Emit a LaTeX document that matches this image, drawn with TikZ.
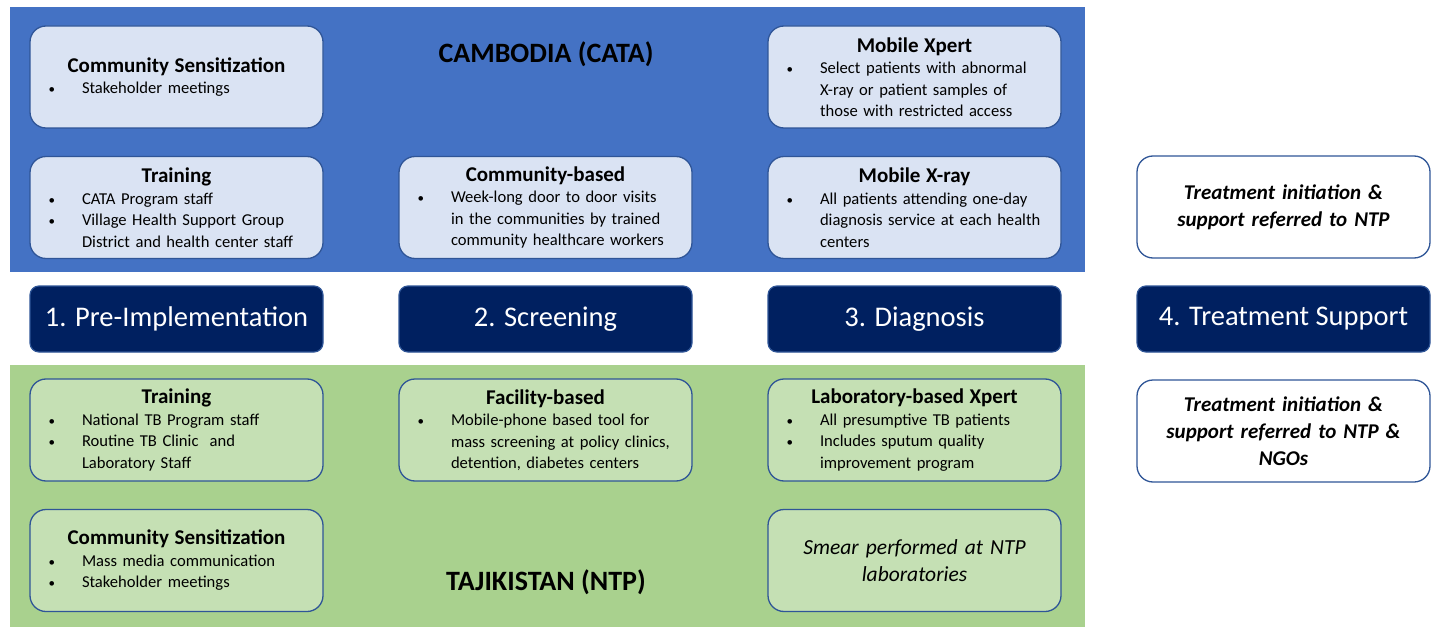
\documentclass[tikz,border=0pt]{standalone}
\usepackage{fontspec}
\setmainfont{Carlito}
\definecolor{bandblue}{HTML}{4472C4}
\definecolor{bandgreen}{HTML}{A9D18E}
\definecolor{lightblue}{HTML}{DAE3F3}
\definecolor{lightgreen}{HTML}{C5E0B4}
\definecolor{navy}{HTML}{002060}
\definecolor{edge}{HTML}{2F5597}

% bullet line, continuation line and card heading (lines never wrap)
\newcommand{\dotmark}{{\fontsize{13}{13}\selectfont\textbullet}}
\newcommand{\blt}[1]{\par\noindent\makebox[34pt][l]{\hspace{0.5pt}\dotmark}\mbox{#1}}
\newcommand{\cont}[1]{\par\noindent\hspace*{34pt}\mbox{#1}}
\newcommand{\ttl}[1]{{\centering\bfseries\fontsize{21}{22}\selectfont #1\par}}

\tikzset{
  card/.style={draw=edge, line width=1.3pt, rounded corners=16pt,
    minimum width=293pt, minimum height=102pt, inner xsep=18pt, inner ysep=0pt,
    text width=257pt, align=left, font=\fontsize{16.6}{21.5}\selectfont},
  bluecard/.style={card, fill=lightblue},
  greencard/.style={card, fill=lightgreen},
  notecard/.style={card, align=center, font=\fontsize{21.5}{27}\selectfont\itshape},
  phase/.style={draw=edge, fill=navy, line width=1.2pt, rounded corners=9pt,
    minimum width=293pt, minimum height=66pt, text=white,
    font=\fontsize{28.5}{32}\selectfont},
  country/.style={font=\fontsize{28}{32}\selectfont\bfseries},
}

\begin{document}
\begin{tikzpicture}[x=1pt, y=-1pt]
  \fill[white] (0,0) rectangle (1434,628);
  % country bands
  \fill[bandblue] (10,7) rectangle (1085,272);
  \fill[bandgreen] (10,365) rectangle (1085,627);

  \node[country] (cambodia) at (546,54) {CAMBODIA (CATA)};
  \node[country] (tajik) at (546,582) {TAJIKISTAN (NTP)};

  % Cambodia activities
  \node[bluecard] (cSens) at (176.5,77) {\ttl{Community Sensitization}\blt{Stakeholder meetings}};
  \node[bluecard] (cXpert) at (914.5,77) {\ttl{Mobile Xpert}\blt{Select patients with abnormal}\cont{X-ray or patient samples of}\cont{those with restricted access}};
  \node[bluecard] (cTrain) at (176.5,207.5) {\ttl{Training}\blt{CATA Program staff}\blt{Village Health Support Group}\cont{District and health center staff}};
  \node[bluecard] (cComm) at (545.5,207.5) {\ttl{Community-based}\blt{Week-long door to door visits}\cont{in the communities by trained}\cont{community healthcare workers}};
  \node[bluecard] (cXray) at (914.5,207.5) {\ttl{Mobile X-ray}\blt{All patients attending one-day}\cont{diagnosis service at each health}\cont{centers}};
  \node[notecard, fill=white, font=\fontsize{21}{27}\selectfont\bfseries\itshape] (cTreat) at (1283.5,207) {Treatment initiation \&\\support referred to NTP};

  % phases
  \node[phase] (p1) at (176.5,319) {1. Pre-Implementation};
  \node[phase] (p2) at (545.5,319) {2. Screening};
  \node[phase] (p3) at (914.5,319) {3. Diagnosis};
  \node[phase] (p4) at (1283.5,319) {4. Treatment Support};

  % Tajikistan activities
  \node[greencard] (tTrain) at (176.5,430) {\ttl{Training}\blt{National TB Program staff}\blt{Routine TB Clinic\ \ and}\cont{Laboratory Staff}};
  \node[greencard] (tFac) at (545.5,430) {\ttl{Facility-based}\blt{Mobile-phone based tool for}\cont{mass screening at policy clinics,}\cont{detention, diabetes centers}};
  \node[greencard] (tLab) at (914.5,430) {\ttl{Laboratory-based Xpert}\blt{All presumptive TB patients}\blt{Includes sputum quality}\cont{improvement program}};
  \node[notecard, fill=white, font=\fontsize{21}{27}\selectfont\bfseries\itshape] (tTreat) at (1283.5,431) {Treatment initiation \&\\support referred to NTP \&\\NGOs};
  \node[greencard] (tSens) at (176.5,560.5) {\ttl{Community Sensitization}\blt{Mass media communication}\blt{Stakeholder meetings}};
  \node[notecard, fill=lightgreen] (tSmear) at (914.5,560.5) {Smear performed at NTP\\laboratories};
\end{tikzpicture}
\end{document}
